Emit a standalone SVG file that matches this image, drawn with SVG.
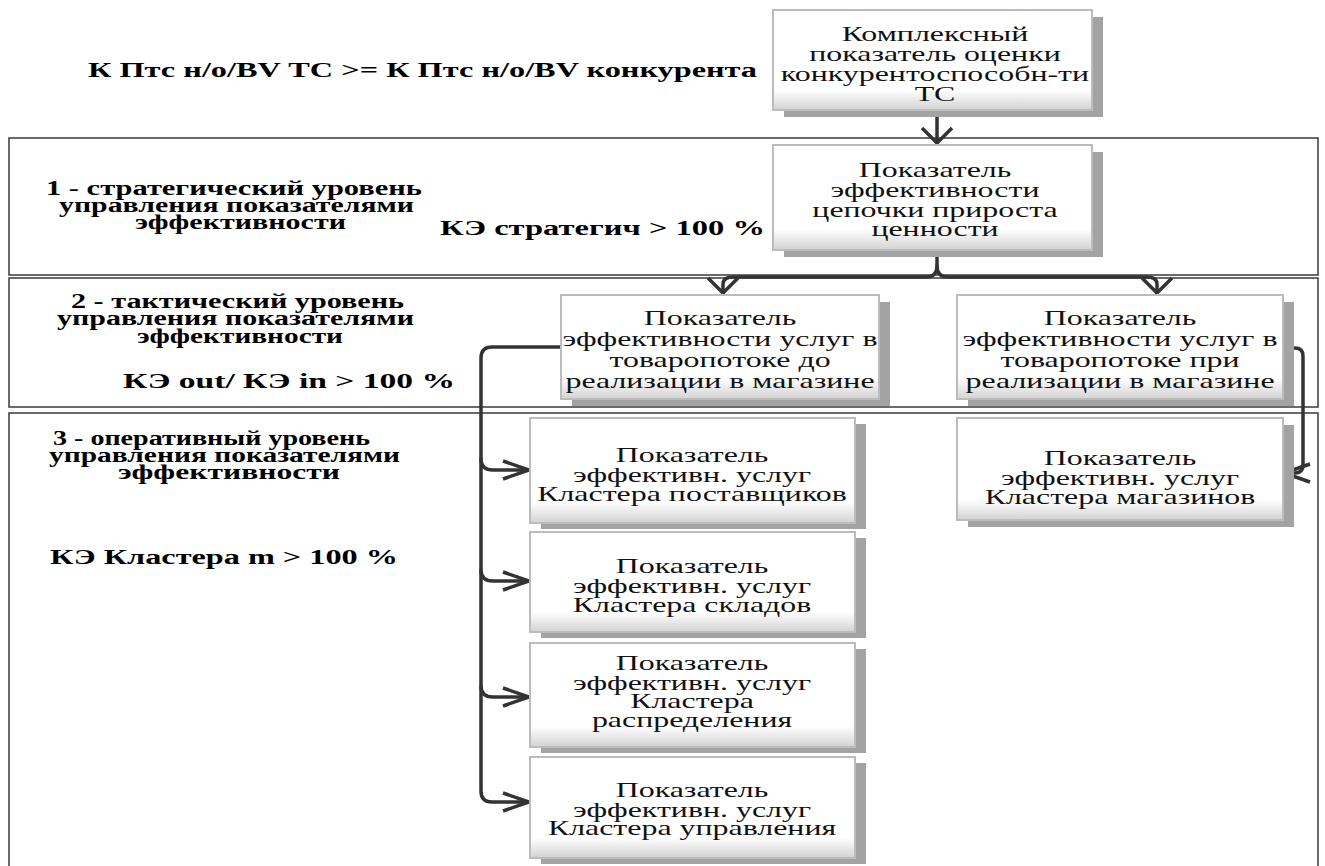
<svg xmlns="http://www.w3.org/2000/svg" width="1325" height="866" viewBox="0 0 1325 866">
<style>
.band{fill:none;stroke:#3a3a3a;stroke-width:1.5}
.shadow{fill:#a3a3a3}
.box{fill:url(#bevel);stroke:#bcbcbc;stroke-width:2}
.nt{font-family:"Liberation Serif","DejaVu Serif",serif;font-size:22px;fill:#111;text-anchor:middle}
.lb{font-family:"Liberation Serif","DejaVu Serif",serif;font-weight:bold;font-size:20px;fill:#000}
.conn{fill:none;stroke:#333;stroke-width:3.5;stroke-linecap:round}
.ah{fill:none;stroke:#333;stroke-width:3.5;stroke-linejoin:miter}
</style>
<defs>
<linearGradient id="bevel" x1="0" y1="0" x2="0" y2="1">
<stop offset="0" stop-color="#ffffff"/>
<stop offset="0.8" stop-color="#ffffff"/>
<stop offset="1" stop-color="#d2d2d2"/>
</linearGradient>
<marker id="arrH" markerUnits="userSpaceOnUse" markerWidth="34" markerHeight="26" refX="29" refY="13" orient="auto" overflow="visible">
<path class="ah" d="M3,4 L29,13 L3,22"/>
</marker>
<marker id="arrV" markerUnits="userSpaceOnUse" markerWidth="22" markerHeight="38" refX="17" refY="19" orient="auto" overflow="visible">
<path class="ah" d="M2,4 L17,19 L2,34"/>
</marker>
</defs>
<rect width="1325" height="866" fill="#fff"/>

<g id="bands">
<rect class="band" x="9" y="138" width="1309" height="137"/>
<rect class="band" x="9" y="278" width="1309" height="129"/>
<rect class="band" x="9" y="413" width="1309" height="470"/>
</g>

<g id="labels">
<text class="lb" x="88" y="77" textLength="669" lengthAdjust="spacingAndGlyphs">К Птс н/о/BV ТС &gt;= К Птс н/о/BV конкурента</text>
<text class="lb" x="46" y="195" textLength="376" lengthAdjust="spacingAndGlyphs">1 - стратегический уровень</text>
<text class="lb" x="59" y="212" textLength="355" lengthAdjust="spacingAndGlyphs">управления показателями</text>
<text class="lb" x="135" y="229" textLength="211" lengthAdjust="spacingAndGlyphs">эффективности</text>
<text class="lb" x="440" y="235" textLength="325" lengthAdjust="spacingAndGlyphs">КЭ стратегич &gt; 100 %</text>
<text class="lb" x="71" y="308" textLength="333" lengthAdjust="spacingAndGlyphs">2 - тактический уровень</text>
<text class="lb" x="57" y="325" textLength="357" lengthAdjust="spacingAndGlyphs">управления показателями</text>
<text class="lb" x="137" y="343" textLength="206" lengthAdjust="spacingAndGlyphs">эффективности</text>
<text class="lb" x="123" y="388" textLength="332" lengthAdjust="spacingAndGlyphs">КЭ out/ КЭ in &gt; 100 %</text>
<text class="lb" x="53" y="445" textLength="317" lengthAdjust="spacingAndGlyphs">3 - оперативный уровень</text>
<text class="lb" x="49" y="462" textLength="351" lengthAdjust="spacingAndGlyphs">управления показателями</text>
<text class="lb" x="118" y="479" textLength="222" lengthAdjust="spacingAndGlyphs">эффективности</text>
<text class="lb" x="50" y="564" textLength="348" lengthAdjust="spacingAndGlyphs">КЭ Кластера m &gt; 100 %</text>
</g>

<g id="connectors">
<path class="conn" d="M937,112 V143" marker-end="url(#arrV)"/>
<path class="conn" d="M937,252 V266 Q937,277 926,277 H734 Q723,277 723,284 V293" marker-end="url(#arrV)"/>
<path class="conn" d="M937,266 Q937,277 948,277 H1146 Q1157,277 1157,284 V293" marker-end="url(#arrV)"/>
<path class="conn" d="M561,347 H492 Q481,347 481,358 V791 Q481,802 492,802 H529" marker-end="url(#arrH)"/>
<path class="conn" d="M481,459 Q481,470 493,470 H529" marker-end="url(#arrH)"/>
<path class="conn" d="M481,570 Q481,581 493,581 H529" marker-end="url(#arrH)"/>
<path class="conn" d="M481,686 Q481,697 493,697 H529" marker-end="url(#arrH)"/>
<path class="conn" d="M1283,348 H1295 Q1303,348 1303,356 V465 Q1303,473 1295,473 H1284" marker-end="url(#arrH)"/>
</g>

<g id="n-complex">
<rect class="shadow" x="784" y="17" width="319" height="100"/>
<rect class="box" x="773" y="10" width="319" height="100"/>
<g transform="translate(935 0) scale(1.45 1)">
<text class="nt" x="0" y="41">Комплексный</text>
<text class="nt" x="0" y="61">показатель оценки</text>
<text class="nt" x="0" y="81">конкурентоспособн-ти</text>
<text class="nt" x="0" y="101">ТС</text>
</g>
</g>

<g id="n-chain">
<rect class="shadow" x="784" y="152" width="319" height="105"/>
<rect class="box" x="773" y="145" width="319" height="105"/>
<g transform="translate(935 0) scale(1.45 1)">
<text class="nt" x="0" y="177">Показатель</text>
<text class="nt" x="0" y="197">эффективности</text>
<text class="nt" x="0" y="217">цепочки прироста</text>
<text class="nt" x="0" y="236">ценности</text>
</g>
</g>

<g id="n-before">
<rect class="shadow" x="572" y="302" width="318" height="104"/>
<rect class="box" x="561" y="295" width="318" height="104"/>
<g transform="translate(720 0) scale(1.45 1)">
<text class="nt" x="0" y="325">Показатель</text>
<text class="nt" x="0" y="346">эффективности услуг в</text>
<text class="nt" x="0" y="367">товаропотоке до</text>
<text class="nt" x="0" y="388">реализации в магазине</text>
</g>
</g>

<g id="n-during">
<rect class="shadow" x="968" y="302" width="326" height="104"/>
<rect class="box" x="957" y="295" width="326" height="104"/>
<g transform="translate(1120 0) scale(1.45 1)">
<text class="nt" x="0" y="325">Показатель</text>
<text class="nt" x="0" y="346">эффективности услуг в</text>
<text class="nt" x="0" y="367">товаропотоке при</text>
<text class="nt" x="0" y="388">реализации в магазине</text>
</g>
</g>

<g id="n-shops">
<rect class="shadow" x="968" y="425" width="326" height="102"/>
<rect class="box" x="957" y="418" width="326" height="102"/>
<g transform="translate(1120 0) scale(1.45 1)">
<text class="nt" x="0" y="465">Показатель</text>
<text class="nt" x="0" y="485">эффективн. услуг</text>
<text class="nt" x="0" y="504">Кластера магазинов</text>
</g>
</g>

<g id="n-suppliers">
<rect class="shadow" x="541" y="424" width="325" height="105"/>
<rect class="box" x="530" y="418" width="325" height="105"/>
<g transform="translate(692 0) scale(1.45 1)">
<text class="nt" x="0" y="462">Показатель</text>
<text class="nt" x="0" y="482">эффективн. услуг</text>
<text class="nt" x="0" y="501">Кластера поставщиков</text>
</g>
</g>

<g id="n-warehouses">
<rect class="shadow" x="541" y="538" width="325" height="100"/>
<rect class="box" x="530" y="532" width="325" height="100"/>
<g transform="translate(692 0) scale(1.45 1)">
<text class="nt" x="0" y="573">Показатель</text>
<text class="nt" x="0" y="593">эффективн. услуг</text>
<text class="nt" x="0" y="612">Кластера складов</text>
</g>
</g>

<g id="n-distribution">
<rect class="shadow" x="541" y="649" width="325" height="104"/>
<rect class="box" x="530" y="643" width="325" height="104"/>
<g transform="translate(692 0) scale(1.45 1)">
<text class="nt" x="0" y="670">Показатель</text>
<text class="nt" x="0" y="690">эффективн. услуг</text>
<text class="nt" x="0" y="708">Кластера</text>
<text class="nt" x="0" y="727">распределения</text>
</g>
</g>

<g id="n-management">
<rect class="shadow" x="541" y="763" width="325" height="101"/>
<rect class="box" x="530" y="757" width="325" height="101"/>
<g transform="translate(692 0) scale(1.45 1)">
<text class="nt" x="0" y="797">Показатель</text>
<text class="nt" x="0" y="817">эффективн. услуг</text>
<text class="nt" x="0" y="835">Кластера управления</text>
</g>
</g>
</svg>
